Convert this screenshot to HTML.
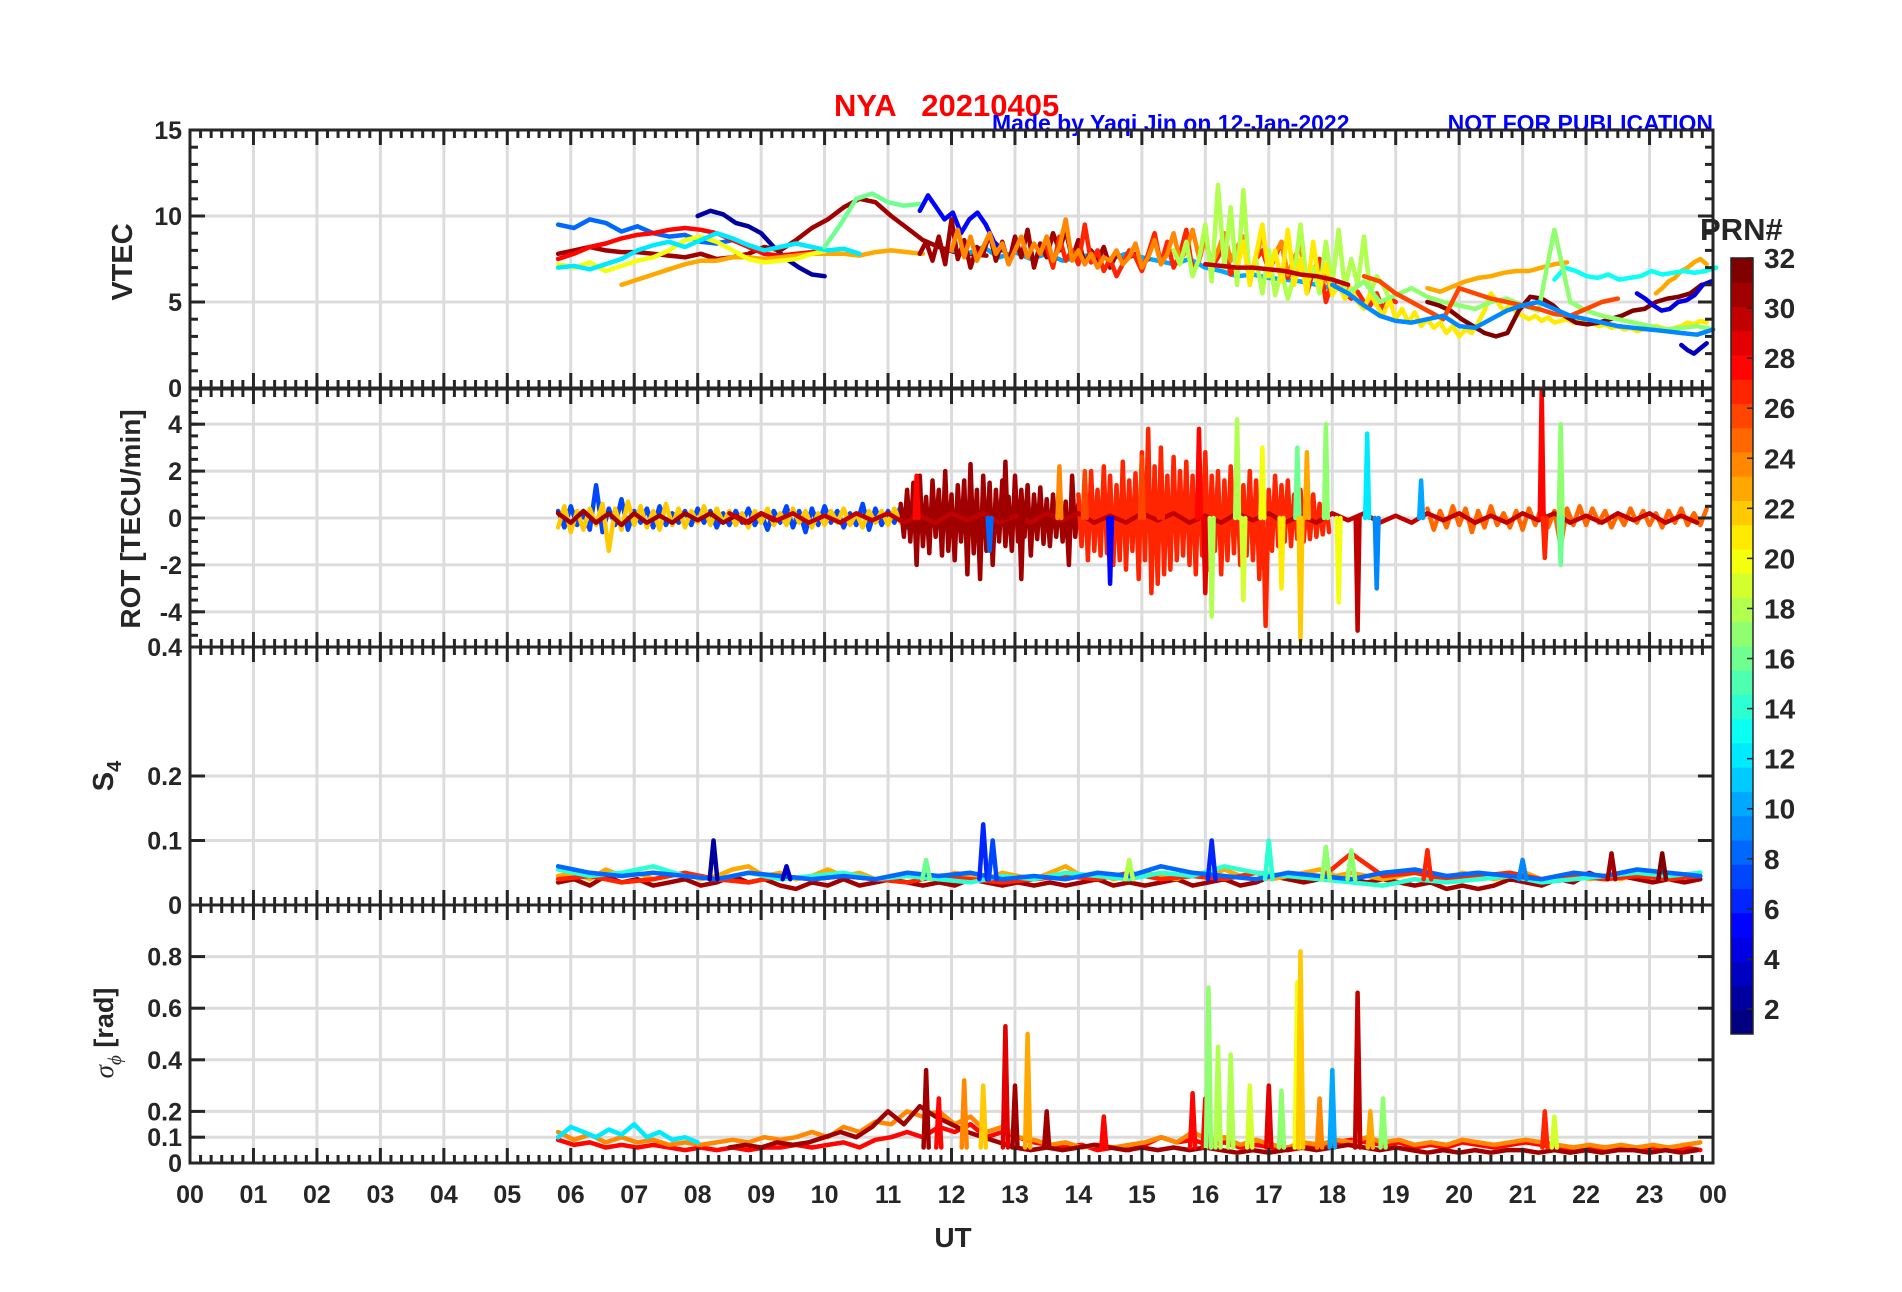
<!DOCTYPE html>
<html><head><meta charset="utf-8"><style>
html,body{margin:0;padding:0;background:#fff}
svg{display:block}
text{font-family:"Liberation Sans",Arial,sans-serif;font-weight:bold;fill:#262626}
</style></head><body>
<svg id="fig" width="1902" height="1292" viewBox="0 0 1902 1292" xmlns="http://www.w3.org/2000/svg">
<text x="834" y="116" font-size="31" style="fill:#ff0000" xml:space="preserve">NYA   20210405</text>
<text x="992" y="131" font-size="23" style="fill:#0000ff">Made by Yaqi Jin on 12-Jan-2022</text>
<text x="1713" y="131" font-size="23" text-anchor="end" style="fill:#0000ff">NOT FOR PUBLICATION</text>
<g id="plots"></g>
<text x="1700" y="240" font-size="31">PRN#</text>
<g id="cbar"></g>
<text x="953" y="1247" font-size="28" text-anchor="middle">UT</text>
<text transform="translate(132,262) rotate(-90)" font-size="29" text-anchor="middle">VTEC</text>
<text transform="translate(140,519) rotate(-90)" font-size="28" text-anchor="middle">ROT [TECU/min]</text>
<text transform="translate(113,776) rotate(-90)" font-size="29" text-anchor="middle">S<tspan font-size="20" dy="8">4</tspan></text>
<text transform="translate(113,1033) rotate(-90)" font-size="27" text-anchor="middle"><tspan font-family="Liberation Serif" font-style="italic" font-weight="normal">σ</tspan><tspan font-size="19" dy="8" font-family="Liberation Serif" font-style="italic" font-weight="normal">ϕ</tspan><tspan dy="-8"> [rad]</tspan></text>
</svg>
<script>
// ---------- data ----------
const hourLabels=["00","01","02","03","04","05","06","07","08","09","10","11","12","13","14","15","16","17","18","19","20","21","22","23","00"];
const vtecTicks=[0,5,10,15];
const rotTicks=[-4,-2,0,2,4];
const s4Ticks=[0,0.1,0.2,0.4];
const sigTicks=[0,0.1,0.2,0.4,0.6,0.8];
const prnTicks=[2,4,6,8,10,12,14,16,18,20,22,24,26,28,30,32];

const vtecPrn=[8,2,31,28,23,20,12,16,5,10,31,27,24,18,21,30,32,23,23,13,4,3,17,26,9];
const vtecStart=[5.8,8.0,5.8,5.8,6.8,5.8,5.8,10.0,11.5,12.0,11.5,13.5,12.0,15.5,16.5,16.0,19.5,19.5,23.1,21.5,22.8,23.5,18.0,18.5,18.0];
const vtecStep=[0.25,0.2,0.25,0.25,0.25,0.25,0.25,0.25,0.13,0.25,0.1,0.1,0.1,0.1,0.1,0.25,0.18,0.2,0.1,0.17,0.13,0.1,0.25,0.25,0.25];
const vtecVals=[
[9.5,9.3,9.8,9.6,9.1,9.4,9.0,8.8,8.9,8.5,8.4,8.6,8.3,8.0],
[10.0,10.3,10.1,9.6,9.4,9.0,8.2,7.5,7.0,6.6,6.5],
[7.8,8.0,8.2,8.0,7.9,7.9,7.8,7.7,7.6,7.8,7.5,7.6,7.8,8.2,8.0,8.6,9.3,9.8,10.5,11.0,10.8,10.0,9.3,8.6,8.2,7.9,7.8,7.7],
[7.5,7.8,8.2,8.4,8.7,8.9,9.0,9.2,9.3,9.2,9.0,8.6,8.2,7.8,7.7,7.8,7.9,8.0],
[6.0,6.3,6.6,6.9,7.2,7.4,7.4,7.6,7.6,7.5,7.6,7.7,7.8,7.8,7.8,7.7,7.9,8.0,7.9,7.8],
[7.2,7.0,7.3,6.8,7.1,7.4,7.6,8.0,8.6,8.8,8.5,8.0,7.5,7.3,7.4,7.5,7.8,8.0],
[7.0,7.1,6.9,7.2,7.5,8.0,8.3,8.5,8.2,8.6,9.0,8.7,8.3,8.0,8.2,8.4,8.2,8.0,8.1,7.8],
[8.2,9.5,11.0,11.3,10.8,10.6,10.7],
[10.3,11.2,10.5,9.8,10.2,9.0,9.8,10.2,9.5,8.5,8.0],
[8.0,7.8,8.2,7.6,7.9,7.5,7.8,7.4,7.6,7.8,7.5,7.8,7.6,7.4,7.2,7.5,7.0,6.8,6.5,6.6,6.4,6.3,6.2,6.0,5.8],
[7.8,8.5,7.4,8.8,7.2,9.8,7.5,8.6,7.0,8.2,7.8,9.0,7.4,8.5,7.2,8.8,7.6,9.2,7.0,8.4,7.6,9.0,8.0,9.2,7.5,8.6,7.2,8.0,7.4,8.2,7.0,7.8,7.4,7.6,7.8,7.2,7.5],
[8.2,7.0,8.8,7.4,8.0,7.2,9.5,7.3,8.0,6.8,7.5,6.5,7.2,8.0,7.6,6.8,7.8,9.0,7.2,8.5,7.0,7.8,9.2,6.8,7.4,8.8,7.0,7.6,8.4,6.6,7.2,8.8,6.5,7.5,8.0,6.8,7.6,8.5,6.4,7.2,8.6,5.5,6.8,7.5,5.0,6.2,5.8,5.5,5.2,5.6,5.0,4.8,5.5,4.6,5.2,5.0],
[8.0,9.2,7.6,8.8,7.4,8.2,9.0,7.8,8.4,7.2,8.0,8.8,7.6,8.4,7.8,8.8,7.4,8.2,9.8,7.4,8.0,7.2,7.8,7.0,7.6,7.4,8.0,7.2,7.6,8.4,7.0,7.6,8.6,7.2,7.8,9.0,7.4,8.0,9.2,7.6,8.6,7.2,8.0,9.0,7.4,8.2,8.8,6.5,7.6,9.0,6.8,7.8,8.5,6.6,7.6,8.2,6.0,7.0,5.8,6.5,5.6,5.8,6.2,5.4,6.0],
[8.0,7.2,8.5,6.5,7.5,9.5,6.2,11.8,7.0,10.5,6.0,11.5,6.2,7.5,5.5,8.0,5.4,6.8,5.2,6.5,9.5,6.0,7.0,5.5,8.5,6.0,9.2,5.8,7.5,6.0,8.8,5.5,6.5,6.0,5.2],
[7.0,8.5,6.0,7.8,9.5,6.5,8.0,6.2,9.2,6.0,7.5,5.5,8.5,6.0,7.2,5.4,6.0,5.2,5.8,5.0,4.6,5.5,4.8,4.2,5.2,4.0,4.6,3.8,4.4,3.6,4.0,3.5,3.8,3.2,3.6,3.0,3.4,3.2,3.8,4.5,5.5,5.0,4.5,4.8,4.4,4.2,4.0,4.2,3.9,4.1,3.8,3.9,4.0,3.8,3.9,3.7,3.8,3.6,3.7,3.5,3.6,3.4,3.5,3.3,3.4,3.5,3.6,3.5,3.4,3.5,3.6,3.8,3.7,3.9,3.8],
[7.2,7.1,7.0,7.0,6.9,6.8,6.6,6.5,6.3,6.0],
[5.0,4.8,4.5,4.0,3.6,3.2,3.0,3.2,4.5,5.3,5.2,4.8,4.2,3.8,3.7,3.8,4.0,4.2,4.5,4.6,5.0,5.2,5.3,5.5,6.0],
[5.8,5.6,5.9,6.2,6.4,6.5,6.7,6.8,6.8,7.0,7.2,7.3],
[5.5,5.8,6.2,6.4,6.8,7.0,7.3,7.5,7.2],
[6.3,7.0,6.8,6.5,6.4,6.6,6.3,6.4,6.5,6.8,6.6,6.7,6.8,6.7,6.8,7.0],
[5.5,5.2,4.8,4.5,4.6,5.0,5.1,5.4,6.0,6.2],
[2.5,2.2,2.0,2.3,2.6],
[6.0,5.5,6.2,5.0,5.4,5.8,5.3,5.0,4.8,4.6,5.0,5.2,4.8,4.5,9.2,5.0,4.5,4.2,4.0,3.8,3.6,3.4,3.5,3.6,3.4],
[6.5,6.2,5.5,5.0,4.5,4.0,5.8,5.5,5.2,5.0,4.8,4.6,4.3,4.2,4.6,5.0,5.2],
[6.0,5.5,4.8,4.2,3.9,3.8,4.0,4.2,3.6,3.5,4.0,4.5,4.8,5.0,4.6,4.2,4.0,3.8,3.6,3.5,3.4,3.3,3.2,3.1,3.4]
];

const rotPrn=[7,22,31,31,27,25,30];
const rotStart=[5.8,5.8,5.8,11.2,14.0,19.5,8.5];
const rotStep=[0.1,0.1,0.2,0.05,0.05,0.1,0.25];
const rotVals=[
[0.3,-0.4,0.5,-0.3,0.2,-0.5,1.4,-0.6,0.4,-0.3,0.8,-0.5,0.3,-0.2,0.4,-0.4,0.5,-0.3,0.2,-0.2,0.3,-0.3,0.4,-0.2,0.3,-0.4,0.2,-0.3,0.3,-0.2,0.4,-0.3,0.2,-0.5,0.3,-0.2,0.5,-0.4,0.3,-0.6,0.4,-0.3,0.5,-0.2,0.3,-0.4,0.2,-0.3,0.6,-0.5,0.4,-0.3,0.3,-0.2,0.5,-0.4,0.3,-0.5,0.4,-0.3],
[-0.4,0.5,-0.6,0.3,-0.5,0.4,-0.3,0.6,-1.4,0.4,-0.5,0.7,-0.3,0.5,-0.4,0.3,-0.5,0.6,-0.3,0.4,-0.4,0.3,-0.2,0.5,-0.3,0.4,-0.2,0.3,-0.3,0.2,-0.4,0.3,-0.2,0.4,-0.3,0.2,-0.3,0.4,-0.2,0.3,-0.4,0.2,-0.3,0.3,-0.2,0.4,-0.3,0.2,-0.4,0.3,-0.2,0.3,-0.3,0.4,-0.2,0.3,-0.3,0.2],
[0.2,-0.2,0.3,-0.2,0.2,-0.3,0.2,-0.2,0.1,-0.2,0.2,-0.1,0.2,-0.2,0.1,-0.2,0.2,-0.1],
[0.6,-0.8,1.2,-1.0,1.5,-2.0,1.8,-1.2,0.9,-1.5,1.6,-0.8,1.2,-1.6,2.0,-1.4,1.0,-1.8,1.4,-1.0,1.6,-2.4,2.3,-1.5,1.2,-2.6,1.8,-1.4,1.5,-2.0,1.2,-1.0,1.6,-1.2,0.9,-1.4,1.8,-1.0,1.2,-0.8,1.4,-1.6,1.0,-0.9,1.3,-1.1,0.8,-1.2,1.0,-0.8,0.9,-1.0,0.7,-2.0,1.8,-0.8,0.6,-0.9,0.8,-0.6],
[1.0,-1.2,1.5,-1.8,2.0,-1.4,1.2,-1.6,2.2,-1.5,1.8,-2.0,1.4,-1.8,2.4,-2.2,1.6,-1.4,1.9,-2.6,2.8,-1.8,3.8,-3.2,2.2,-2.8,3.0,-2.4,1.8,-2.2,2.6,-1.8,2.0,-1.6,2.4,-2.0,1.8,-2.4,2.2,-1.6,2.8,-2.2,1.8,-1.4,2.0,-2.4,1.6,-1.8,2.2,-1.5,1.8,-2.0,1.4,-1.6,2.0,-1.8,1.6,-2.6,1.4,-4.6,1.2,-1.4,1.8,-1.2,1.4,-1.0,1.6,-1.2,1.0,-0.9,1.2,-1.0,0.8,-0.9,1.0,-0.8,0.6,-0.7,0.8,-0.6],
[0.4,-0.5,0.3,-0.4,0.5,-0.3,0.4,-0.6,0.3,-0.4,0.5,-0.3,0.2,-0.4,0.3,-0.5,0.4,-0.3,0.5,-0.4,0.3,-1.2,0.4,-0.3,0.5,-0.3,0.4,-0.2,0.3,-0.4,0.2,-0.3,0.4,-0.2,0.3,-0.3,0.2,-0.4,0.3,-0.2,0.4,-0.3,0.2,-0.3,0.4],
[0.2,-0.2,0.2,-0.1,0.2,-0.2,0.1,-0.2,0.2,-0.1,0.2,-0.2,0.1,-0.2,0.2,-0.1,0.2,-0.2,0.1,-0.2,0.2,-0.1,0.2,-0.2,0.1,-0.2,0.2,-0.1,0.2,-0.2,0.1,-0.2,0.2,-0.1,0.2,-0.2,0.1,-0.2,0.2,-0.1,0.2,-0.2,0.1,-0.2,0.2,-0.1,0.2,-0.2,0.1,-0.2,0.2,-0.1,0.2,-0.2,0.1,-0.2,0.2,-0.1,0.2,-0.2,0.1,-0.2]
];
const rotSpikeT=[11.45,12.85,13.1,14.1,14.5,15.3,15.9,16.0,16.1,16.5,16.6,16.9,17.2,17.45,17.5,17.6,17.9,18.1,18.4,18.55,18.7,21.3,21.35,21.6,21.6,13.7,12.6,15.0,19.4];
const rotSpikeV=[1.8,2.4,-2.6,2.0,-2.8,2.5,3.8,-3.2,-4.2,4.2,-3.5,3.0,-3.0,3.0,-5.2,2.8,4.0,-3.6,-4.8,3.6,-3.0,5.5,-1.7,4.0,-2.0,2.2,-1.4,2.6,1.6];
const rotSpikePrn=[28,31,31,26,5,27,28,29,18,18,19,20,21,16,22,23,17,20,30,12,9,28,27,17,16,24,8,26,10];

const s4Prn=[31,23,27,14,8];
const s4Start=[5.8,5.8,5.8,5.8,5.8];
const s4Step=[0.25,0.25,0.5,0.5,0.5];
const s4Vals=[
[0.035,0.04,0.03,0.045,0.035,0.04,0.03,0.035,0.04,0.03,0.035,0.045,0.035,0.04,0.03,0.025,0.035,0.03,0.04,0.03,0.035,0.04,0.035,0.03,0.035,0.03,0.04,0.035,0.03,0.035,0.03,0.035,0.03,0.035,0.04,0.03,0.035,0.03,0.035,0.04,0.03,0.035,0.04,0.03,0.035,0.045,0.04,0.035,0.04,0.045,0.04,0.035,0.04,0.035,0.03,0.035,0.025,0.03,0.025,0.03,0.04,0.035,0.03,0.04,0.035,0.05,0.04,0.045,0.04,0.035,0.04,0.035,0.04],
[0.045,0.05,0.04,0.055,0.045,0.05,0.04,0.045,0.05,0.04,0.045,0.055,0.06,0.045,0.05,0.04,0.045,0.055,0.045,0.05,0.04,0.045,0.05,0.045,0.04,0.05,0.045,0.04,0.05,0.045,0.04,0.05,0.06,0.045,0.05,0.04,0.045,0.05,0.045,0.04,0.05,0.045,0.055,0.045,0.05,0.04,0.045,0.05,0.055,0.045,0.05,0.045,0.04,0.045,0.05,0.045,0.04,0.05,0.045,0.04,0.045,0.05,0.04,0.045,0.05,0.04,0.045,0.04,0.05,0.045,0.04,0.045,0.05],
[0.04,0.045,0.035,0.04,0.05,0.04,0.035,0.045,0.04,0.045,0.04,0.035,0.045,0.04,0.035,0.04,0.045,0.04,0.05,0.04,0.045,0.04,0.05,0.045,0.04,0.08,0.045,0.05,0.04,0.045,0.05,0.04,0.045,0.04,0.045,0.04,0.045],
[0.055,0.045,0.05,0.06,0.045,0.04,0.05,0.04,0.045,0.05,0.04,0.045,0.04,0.035,0.045,0.04,0.05,0.045,0.04,0.05,0.045,0.06,0.05,0.045,0.04,0.035,0.03,0.04,0.035,0.04,0.045,0.035,0.04,0.045,0.05,0.045,0.05],
[0.06,0.05,0.045,0.05,0.045,0.04,0.05,0.045,0.04,0.045,0.04,0.05,0.045,0.05,0.04,0.045,0.04,0.05,0.045,0.06,0.05,0.045,0.04,0.05,0.045,0.04,0.05,0.055,0.045,0.05,0.045,0.04,0.05,0.045,0.055,0.05,0.045]
];
const s4SpikeT=[8.25,9.4,11.6,12.5,12.65,14.8,16.1,17.0,17.9,18.3,19.5,21.0,22.4,23.2];
const s4SpikeV=[0.1,0.06,0.07,0.125,0.1,0.07,0.1,0.1,0.09,0.085,0.085,0.07,0.08,0.08];
const s4SpikePrn=[2,3,16,6,7,18,6,14,17,17,27,9,31,32];

const sigPrn=[28,24,12,31];
const sigStart=[5.8,5.8,5.8,8.5];
const sigStep=[0.25,0.25,0.2,0.25];
const sigVals=[
[0.09,0.07,0.08,0.06,0.07,0.06,0.07,0.06,0.05,0.06,0.05,0.06,0.05,0.06,0.06,0.07,0.06,0.07,0.08,0.06,0.09,0.1,0.12,0.1,0.14,0.12,0.15,0.1,0.12,0.1,0.08,0.07,0.06,0.07,0.05,0.06,0.05,0.07,0.1,0.08,0.09,0.07,0.08,0.06,0.07,0.06,0.05,0.06,0.07,0.08,0.09,0.08,0.07,0.08,0.06,0.07,0.06,0.08,0.07,0.06,0.07,0.08,0.07,0.06,0.05,0.06,0.05,0.06,0.05,0.06,0.05,0.06,0.05],
[0.12,0.09,0.11,0.08,0.1,0.08,0.09,0.07,0.08,0.07,0.08,0.09,0.08,0.1,0.09,0.1,0.12,0.1,0.14,0.12,0.16,0.15,0.2,0.18,0.2,0.15,0.18,0.12,0.14,0.1,0.09,0.07,0.08,0.06,0.07,0.06,0.07,0.08,0.1,0.08,0.12,0.09,0.1,0.07,0.09,0.07,0.06,0.08,0.07,0.09,0.08,0.1,0.08,0.09,0.07,0.08,0.07,0.09,0.08,0.07,0.08,0.09,0.08,0.07,0.06,0.07,0.06,0.07,0.06,0.07,0.06,0.07,0.08],
[0.1,0.14,0.12,0.1,0.13,0.11,0.15,0.1,0.12,0.09,0.1,0.08],
[0.06,0.07,0.06,0.08,0.07,0.08,0.1,0.12,0.1,0.14,0.2,0.15,0.22,0.18,0.15,0.12,0.1,0.08,0.06,0.05,0.06,0.05,0.06,0.07,0.06,0.05,0.06,0.05,0.06,0.05,0.06,0.05,0.04,0.05,0.04,0.05,0.06,0.05,0.06,0.07,0.06,0.05,0.06,0.05,0.04,0.05,0.04,0.05,0.04,0.05,0.05,0.04,0.05,0.04,0.05,0.04,0.05,0.05,0.04,0.05,0.04,0.05]
];
const sigSpikeT=[11.6,11.8,12.2,12.5,12.85,13.0,13.2,13.5,14.4,15.8,16.0,16.05,16.2,16.4,16.7,17.0,17.2,17.45,17.5,17.8,18.0,18.4,18.6,18.8,21.35,21.5];
const sigSpikeV=[0.36,0.25,0.32,0.3,0.53,0.3,0.5,0.2,0.18,0.27,0.25,0.68,0.45,0.42,0.3,0.3,0.28,0.7,0.82,0.25,0.36,0.66,0.2,0.25,0.2,0.18];
const sigSpikePrn=[31,28,24,22,29,31,23,31,28,28,28,17,18,18,19,29,17,20,22,24,10,30,23,17,27,19];

// ---------- drawing ----------
const NS="http://www.w3.org/2000/svg";
const X0=190,X1=1713;
const panelTop=[130,389,647,905],PH=258;
const ranges=[[0,15],[-5.5,5.5],[0,0.4],[0,1]];
const xs=t=>X0+t/24*(X1-X0);
const ys=(p,v)=>panelTop[p]+PH-(v-ranges[p][0])/(ranges[p][1]-ranges[p][0])*PH;
function jet(prn){const v=(prn-1)/31;const c=x=>Math.round(255*Math.max(0,Math.min(1,x)));
 return `rgb(${c(1.5-Math.abs(4*v-3))},${c(1.5-Math.abs(4*v-2))},${c(1.5-Math.abs(4*v-1))})`;}
function mk(tag,attrs,parent){const e=document.createElementNS(NS,tag);for(const k in attrs)e.setAttribute(k,attrs[k]);parent.appendChild(e);return e;}
const plots=document.getElementById('plots');
const panelNames=['vtec-panel','rot-panel','s4-panel','sigma-phi-panel'];
const tickSets=[vtecTicks,rotTicks,s4Ticks,sigTicks];
const minorStep=[1,0.5,0,0];
const LW=4.5;

for(let p=0;p<4;p++){
 const g=mk('g',{},plots);
 
 
 const top=panelTop[p],bot=top+PH;
 for(let h=1;h<24;h++){const l=mk('line',{x1:xs(h),x2:xs(h),y1:top,y2:bot,stroke:'#dcdcdc','stroke-width':3},g);
  }
 tickSets[p].forEach(v=>{if(v===ranges[p][0]||v>=ranges[p][1])return;const y=ys(p,v);
  const l=mk('line',{x1:X0,x2:X1,y1:y,y2:y,stroke:'#dcdcdc','stroke-width':3},g);
  });
 const dg=mk('g',{'stroke-linejoin':'round','stroke-linecap':'round',fill:'none'},g);
 
 
 const series=(prns,starts,steps,vals)=>{prns.forEach((prn,i)=>{
   const pts=vals[i].map((v,j)=>xs(starts[i]+j*steps[i]).toFixed(1)+','+ys(p,v).toFixed(1)).join(' ');
   const pl=mk('polyline',{points:pts,stroke:jet(prn),'stroke-width':LW},dg);
   
   });};
 const spikes=(T,V,P,base,w)=>{T.forEach((t,i)=>{
   const pts=[[t-w,base],[t,V[i]],[t+w,base]].map(a=>xs(a[0]).toFixed(1)+','+ys(p,a[1]).toFixed(1)).join(' ');
   const pl=mk('polyline',{points:pts,stroke:jet(P[i]),'stroke-width':LW},dg);
   
   });};
 if(p===0)series(vtecPrn,vtecStart,vtecStep,vtecVals);
 if(p===1){series(rotPrn,rotStart,rotStep,rotVals);spikes(rotSpikeT,rotSpikeV,rotSpikePrn,0,0.03);}
 if(p===2){series(s4Prn,s4Start,s4Step,s4Vals);spikes(s4SpikeT,s4SpikeV,s4SpikePrn,0.04,0.06);}
 if(p===3){series(sigPrn,sigStart,sigStep,sigVals);spikes(sigSpikeT,sigSpikeV,sigSpikePrn,0.06,0.04);}
 const ax=mk('g',{stroke:'#262626','stroke-width':3},g);
 
 
 mk('rect',{x:X0,y:top,width:X1-X0,height:PH,fill:'none'},ax);
 for(let m=0;m<=144;m++){const x=xs(m/6);const L=(m%6===0)?15:8;
  mk('line',{x1:x,x2:x,y1:top,y2:top+L},ax);mk('line',{x1:x,x2:x,y1:bot,y2:bot-L},ax);}
 tickSets[p].forEach(v=>{const y=ys(p,v);mk('line',{x1:X0,x2:X0+15,y1:y,y2:y},ax);mk('line',{x1:X1,x2:X1-15,y1:y,y2:y},ax);
  const t=mk('text',{x:X0-8,y:y+9,'font-size':25,'text-anchor':'end',stroke:'none'},g);t.textContent=String(v);
  });
 if(minorStep[p]>0){for(let v=ranges[p][0];v<=ranges[p][1]+1e-9;v+=minorStep[p]){const y=ys(p,v);
  mk('line',{x1:X0,x2:X0+8,y1:y,y2:y},ax);mk('line',{x1:X1,x2:X1-8,y1:y,y2:y},ax);}}
}
hourLabels.forEach((s,i)=>{const t=mk('text',{x:xs(i),y:1203,'font-size':25,'text-anchor':'middle'},plots);t.textContent=s;
 });
const cb=document.getElementById('cbar');const CX=1731,CW=22,CT=258,CB=1034;
for(let k=1;k<=32;k++){const h=(CB-CT)/32;const r=mk('rect',{x:CX,y:CB-k*h,width:CW,height:h+0.5,fill:jet(k)},cb);
 }
mk('rect',{x:CX,y:CT,width:CW,height:CB-CT,fill:'none',stroke:'#262626','stroke-width':1.5},cb);
prnTicks.forEach(v=>{const y=CB-(v-1)/31*(CB-CT);mk('line',{x1:CX+CW-6,x2:CX+CW,y1:y,y2:y,stroke:'#262626','stroke-width':1.5},cb);
 const t=mk('text',{x:1764,y:y+10,'font-size':28},cb);t.textContent=String(v);
 });
</script>
</body></html>
